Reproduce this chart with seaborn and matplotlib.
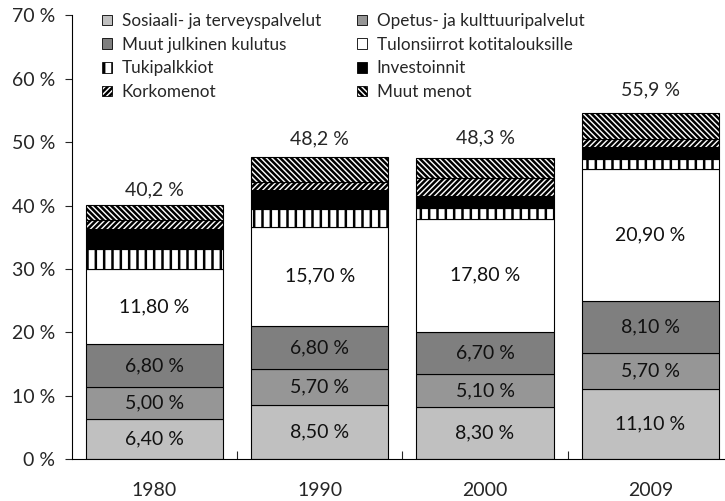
import matplotlib
matplotlib.use("Agg")
import matplotlib.pyplot as plt
import matplotlib.patches as mpatches
import seaborn as sns

# data: share of GDP, %
years = ["1980", "1990", "2000", "2009"]
series = ["Sosiaali- ja terveyspalvelut", "Opetus- ja kulttuuripalvelut",
          "Muut julkinen kulutus", "Tulonsiirrot kotitalouksille",
          "Tukipalkkiot", "Investoinnit", "Korkomenot", "Muut menot"]
sosiaali = [6.4, 8.5, 8.3, 11.1]
opetus = [5.0, 5.7, 5.1, 5.7]
muut_julk = [6.8, 6.8, 6.7, 8.1]
tulonsiirrot = [11.8, 15.7, 17.8, 20.9]
tuki = [3.2, 2.7, 1.7, 1.6]
investoinnit = [3.15, 3.05, 1.85, 1.85]
korko = [1.3, 1.3, 2.9, 1.3]
muut_menot = [2.5, 3.85, 3.15, 4.1]
totals = [40.2, 48.2, 48.3, 55.9]
yticks = [0, 10, 20, 30, 40, 50, 60, 70]

values = [sosiaali, opetus, muut_julk, tulonsiirrot, tuki, investoinnit, korko, muut_menot]
colors = ["#c0c0c0", "#969696", "#7f7f7f", "white", "white", "black", "white", "white"]
hatches = [None, None, None, None, "||", None, "//////", "\\\\\\\\\\\\"]
labelled = [0, 1, 2, 3]
fs = 14

sns.set_theme(style="ticks")
plt.rcParams["font.family"] = ["Lato", "DejaVu Sans"]
plt.rcParams["hatch.linewidth"] = 1.8

fig = plt.figure(figsize=(7.25, 5.01), dpi=100)
ax = fig.add_axes([71.7 / 725, 41.7 / 501, (733 - 71.7) / 725, 444 / 501])

bottom = [0, 0, 0, 0]
handles = []
for i, vals in enumerate(values):
    sns.barplot(x=years, y=vals, bottom=bottom, color=colors[i], saturation=1,
                hatch=hatches[i], edgecolor="black", linewidth=0.8, width=0.83,
                errorbar=None, ax=ax)
    if i in labelled:
        for j, v in enumerate(vals):
            ax.text(j, bottom[j] + v / 2, f"{v:.2f}".replace(".", ",") + " %",
                    ha="center", va="center", fontsize=fs, color="#111111")
    bottom = [b + v for b, v in zip(bottom, vals)]
    handles.append(mpatches.Patch(facecolor=colors[i], edgecolor="black",
                                  hatch=hatches[i], linewidth=0.6, label=series[i]))

for j, t in enumerate(totals):
    ax.annotate(f"{t:.1f}".replace(".", ",") + " %", (j, t), xytext=(0, 10.5),
                textcoords="offset points", ha="center", va="center", fontsize=fs)

ax.set_xlim(-0.5, 3.5)
ax.set_ylim(0, 70)
ax.set_yticks(yticks)
ax.set_yticklabels([f"{t} %" for t in yticks], fontsize=fs)
ax.tick_params(axis="y", direction="out", length=5, width=0.8, pad=7)
ax.tick_params(axis="x", which="major", length=0, pad=16, labelsize=fs)
ax.set_xticks([0.5, 1.5, 2.5], minor=True)
ax.tick_params(axis="x", which="minor", direction="in", length=6, width=0.8)
ax.set_xlabel("")
ax.set_ylabel("")
for s in ["top", "right"]:
    ax.spines[s].set_visible(False)
for s in ["left", "bottom"]:
    ax.spines[s].set_linewidth(0.8)
    ax.spines[s].set_color("black")

# legend: two columns drawn as two legends
leg_kw = dict(loc="upper left", bbox_transform=fig.transFigure, frameon=False,
              fontsize=12.3, handlelength=0.56, handleheight=0.56,
              handletextpad=0.6, labelspacing=0.45, borderpad=0, borderaxespad=0)
left_col = [0, 2, 4, 6]
right_col = [1, 3, 5, 7]
leg1 = ax.legend([handles[k] for k in left_col], [series[k] for k in left_col],
                 bbox_to_anchor=(102 / 725, 1 - 13 / 501), **leg_kw)
ax.add_artist(leg1)
ax.legend([handles[k] for k in right_col], [series[k] for k in right_col],
          bbox_to_anchor=(357 / 725, 1 - 13 / 501), **leg_kw)

fig.savefig("out.png", dpi=100)
